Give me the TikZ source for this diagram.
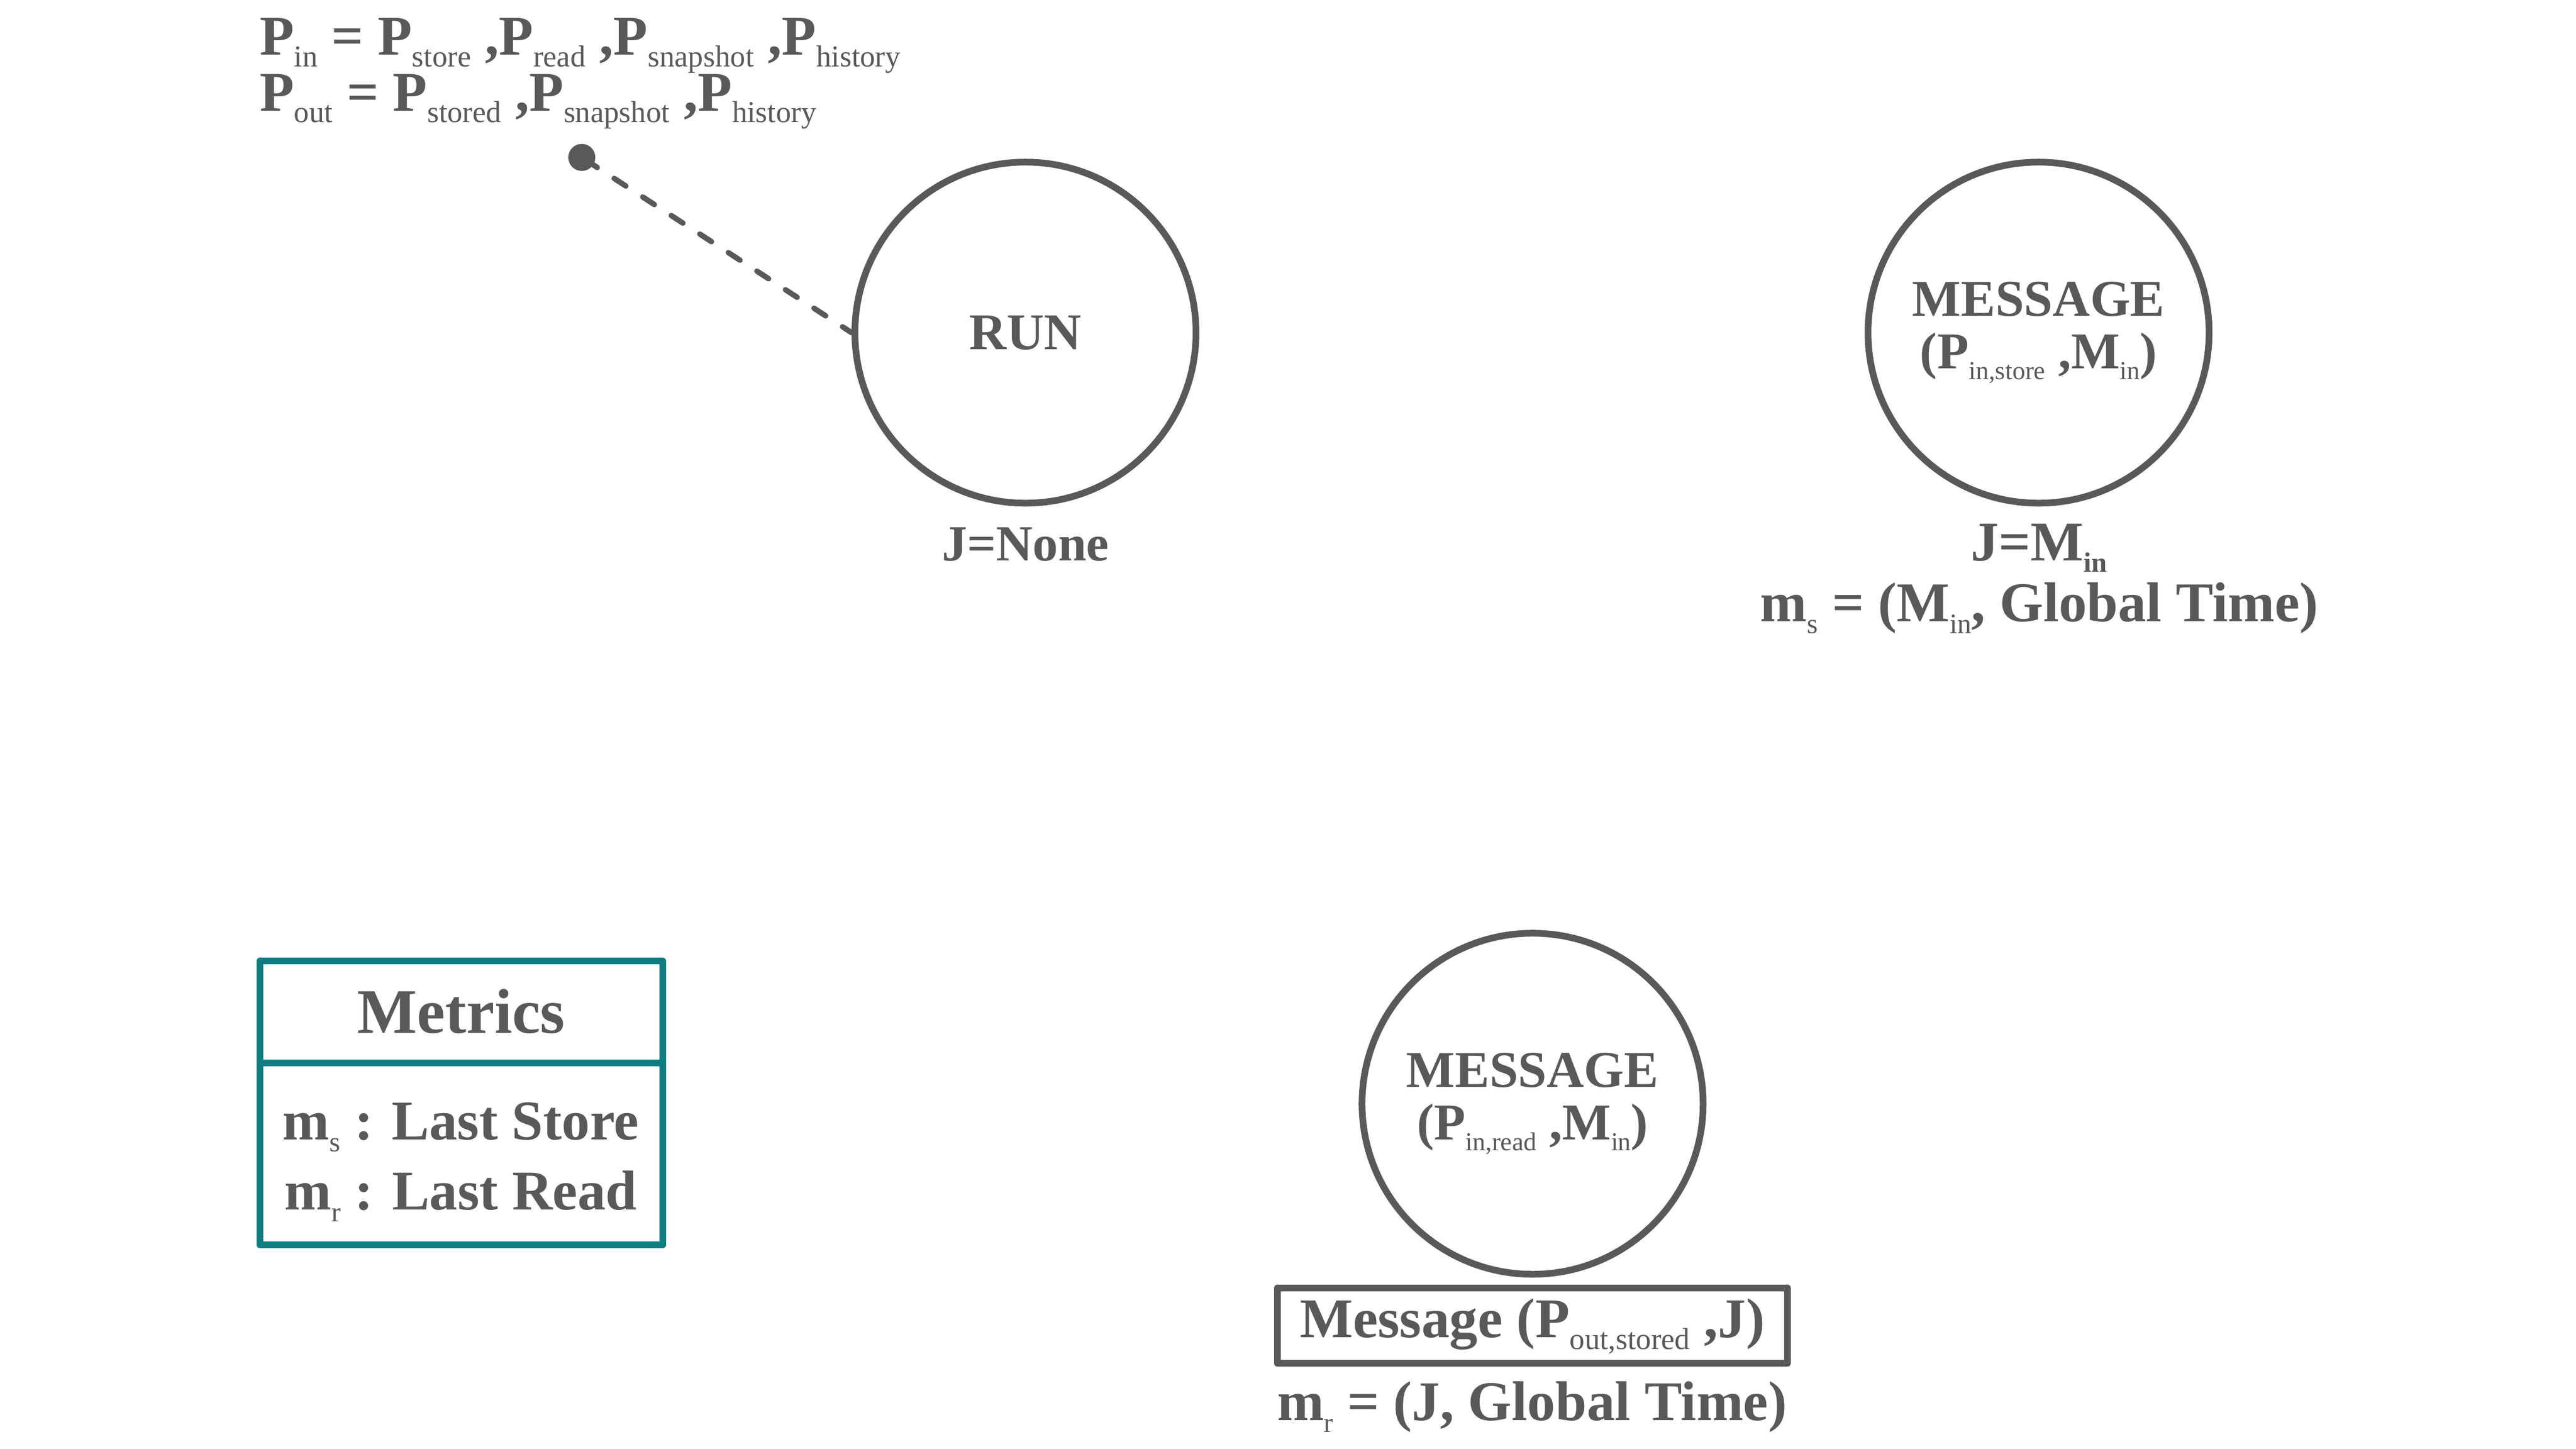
\documentclass[tikz,border=0pt]{standalone}
\usepackage{fontspec}
\setmainfont{Liberation Serif}
\definecolor{tg}{HTML}{58595B}
\definecolor{tealx}{HTML}{0F7D82}
\newcommand\sbx[2][0.5]{\raisebox{-0.21em}{\mdseries\scalebox{#1}{#2}}}
\newcommand\sbb[2][0.5]{\raisebox{-0.21em}{\bfseries\scalebox{#1}{#2}}}
\begin{document}
\begin{tikzpicture}[x=0.032cm,y=-0.032cm,
  circ/.style={circle, draw=tg, line width=3.7pt, minimum size=6.62cm, inner sep=0pt, align=center, text=tg, font=\fontsize{28.5}{29}\selectfont\bfseries},
  lbl/.style={inner sep=0pt, text=tg, font=\fontsize{31}{35}\selectfont\bfseries},
  smalllbl/.style={inner sep=0pt, text=tg, font=\fontsize{28}{32}\selectfont\bfseries},
  mbox/.style={draw=tealx, line width=3.7pt, line join=round, inner sep=0pt, minimum width=7.818cm},
  gbox/.style={draw=tg, line width=3.7pt, line join=round, inner sep=0pt, minimum width=9.907cm},
  dotx/.style={circle, fill=tg, inner sep=0pt, minimum size=0.525cm},
  conn/.style={draw=tg, line width=3pt, line cap=round, dash pattern=on 7.7pt off 11.1pt, dash phase=16.3pt}]
\useasboundingbox (0,0) rectangle (1562.5,879.06);

% top-left definitions
\node[lbl, anchor=base west] (pin) at (157.4,33.3) {P\sbx[0.54]{in} = P\sbx[0.54]{store} ,P\sbx[0.54]{read} ,P\sbx[0.54]{snapshot} ,P\sbx[0.54]{history}};
\node[lbl, anchor=base west] (pout) at (157.4,67.2) {P\sbx[0.54]{out} = P\sbx[0.54]{stored} ,P\sbx[0.54]{snapshot} ,P\sbx[0.54]{history}};

% RUN
\node[circ] (run) at (622,201.8) {RUN};
\node[smalllbl, anchor=base] (jnone) at (622,340) {J=None};
\node[dotx] (dot) at (352.9,95.5) {};
\draw[conn] (dot.center) -- (run.west);

% MESSAGE store
\node[circ] (mstore) at (1236.5,201.8) {MESSAGE\\(P\sbx{in,store} ,M\sbx{in})};
\node[lbl, anchor=base] (jmin) at (1236.8,340) {J=M\sbb{in}};
\node[lbl, anchor=base] (ms) at (1237,377) {m\sbx{s} = (M\sbx{in}, Global Time)};

% MESSAGE read
\node[circ] (mread) at (929.6,669.6) {MESSAGE\\(P\sbx{in,read} ,M\sbx{in})};
\node[gbox, lbl, text height=0.96cm, text depth=0.496cm] (mbx) at (929.5,804.25) {Message (P\sbx[0.54]{out,stored} ,J)};
\node[lbl, anchor=base] (mr) at (929.3,861.6) {m\sbx{r} = (J, Global Time)};

% Metrics
\node[mbox, text=tg, font=\fontsize{35}{40}\selectfont\bfseries, text height=1.398cm, text depth=0.576cm] (mhead) at (279.75,613.95) {Metrics};
\node[mbox, minimum height=3.533cm] (mbody) at (279.75,700) {};
\node[lbl, anchor=base] (mst) at (279.5,691.5) {m\sbx{s} : Last Store};
\node[lbl, anchor=base] (mrd) at (279.5,733.9) {m\sbx{r} : Last Read};
\end{tikzpicture}
\end{document}
